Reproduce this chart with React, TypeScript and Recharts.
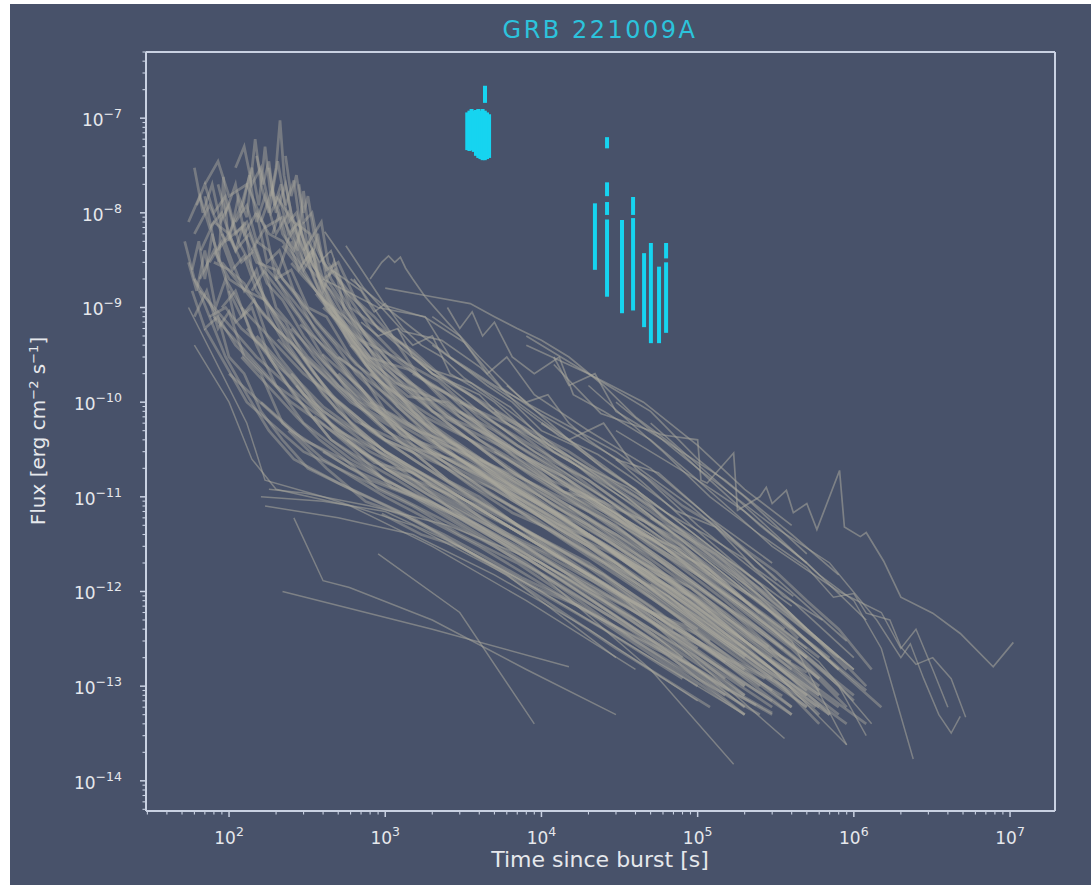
import { ScatterChart, Scatter, XAxis, YAxis, ReferenceLine, ErrorBar } from 'recharts'

const BG = '#48526a'
const SPINE = '#c9d1e2'
const INK = '#e6e8ec'
const GRAY = '#a9a89c'
const CYAN = '#16d4f0'
const FONT = 'DejaVu Sans'

const W = 1081
const H = 881
const PLOT_LEFT = 136
const PLOT_BOTTOM = 807

const X_MIN = 29.4
const X_MAX = 1.94e7
const Y_MIN = 4.8e-15
const Y_MAX = 5.0e-7

const xMajor = [1e2, 1e3, 1e4, 1e5, 1e6, 1e7]
const yMajor = [1e-14, 1e-13, 1e-12, 1e-11, 1e-10, 1e-9, 1e-8, 1e-7]
const minorSteps = [2, 3, 4, 5, 6, 7, 8, 9]

// early, flaring afterglows (t [s], flux)
const flareCurves: number[][][] = [
  [[58, 2.5e-9], [64, 5e-9], [70, 2e-9], [78, 6e-9], [86, 3e-9], [92, 2.4e-8], [98, 6e-9], [110, 4e-9], [125, 8e-9], [140, 2.5e-9], [170, 1.2e-9], [240, 4e-10], [400, 1.2e-10], [900, 3e-11], [2500, 8e-12], [9000, 2e-12], [4e4, 4e-13], [1.6e5, 9e-14]],
  [[66, 4e-9], [80, 8e-9], [100, 6e-9], [120, 1.2e-8], [140, 3e-8], [155, 1.2e-8], [170, 5e-8], [185, 1.5e-8], [200, 3e-8], [212, 9.5e-8], [225, 2.5e-8], [250, 1e-8], [300, 4e-9], [380, 1.5e-9], [600, 4e-10], [1200, 9e-11], [3000, 2.5e-11], [1e4, 6e-12], [4e4, 1.2e-12], [2e5, 1.5e-13]],
  [[100, 5e-9], [115, 1.5e-8], [130, 9e-9], [147, 6e-8], [160, 2e-8], [180, 1e-8], [205, 3.5e-8], [230, 1.2e-8], [260, 2.2e-8], [290, 6e-9], [340, 3e-9], [450, 1.2e-9], [700, 3.5e-10], [1500, 8e-11], [5000, 2e-11], [2e4, 4e-12], [1e5, 6e-13], [5e5, 8e-14]],
  [[55, 3e-9], [62, 1.5e-9], [70, 4e-9], [82, 1e-9], [95, 2e-9], [110, 7e-10], [140, 1e-9], [180, 3e-10], [260, 1.2e-10], [450, 4e-11], [1000, 1.5e-11], [3000, 6e-12], [1.2e4, 1.5e-12], [6e4, 2.5e-13], [2e5, 6e-14]],
  [[60, 8e-10], [72, 1.5e-9], [85, 6e-10], [100, 9e-10], [125, 3e-10], [160, 2e-10], [220, 6e-11], [400, 2.5e-11], [1000, 1e-11], [4000, 3e-12], [2e4, 6e-13], [1e5, 1e-13]],
  [[120, 1e-8], [135, 2.5e-8], [150, 8e-9], [170, 1.5e-8], [200, 6e-9], [240, 1e-8], [275, 4e-9], [300, 1.7e-8], [330, 5e-9], [380, 2e-9], [500, 8e-10], [800, 2.5e-10], [1800, 6e-11], [6000, 1.5e-11], [3e4, 2.5e-12], [1.5e5, 3e-13], [6e5, 6e-14]],
  [[160, 8e-9], [190, 1.8e-8], [220, 6e-9], [260, 4e-9], [300, 8e-9], [330, 3e-9], [370, 6e-9], [420, 2e-9], [520, 1.2e-9], [700, 5e-10], [1100, 1.5e-10], [2500, 4e-11], [8000, 1e-11], [3e4, 2.5e-12], [1.5e5, 4e-13], [6e5, 8e-14]],
  [[200, 2e-9], [240, 5e-9], [280, 2.5e-9], [340, 4e-9], [400, 1.5e-9], [470, 3e-9], [550, 9e-10], [700, 6e-10], [1000, 3e-10], [2000, 8e-11], [6000, 2e-11], [2.5e4, 4e-12], [1.2e5, 6e-13], [5e5, 9e-14]],
  [[70, 1.5e-8], [80, 5e-9], [95, 2e-9], [120, 1e-9], [150, 4e-10], [200, 1.5e-10], [300, 6e-11], [600, 2.5e-11], [2000, 8e-12], [8000, 2e-12], [4e4, 3e-13], [2e5, 5e-14]],
  [[52, 5e-9], [60, 2e-9], [75, 8e-10], [95, 3e-10], [130, 1.2e-10], [180, 5e-11], [260, 2.5e-11], [500, 1.4e-11], [1500, 6e-12], [6000, 1.5e-12], [3e4, 2.5e-13], [1.2e5, 6e-14]],
  [[85, 2e-8], [95, 1e-8], [110, 2e-8], [125, 6e-9], [150, 1e-8], [175, 3e-9], [210, 4e-9], [260, 1.5e-9], [350, 6e-10], [600, 1.8e-10], [1500, 4e-11], [5000, 1e-11], [2.5e4, 2e-12], [1.2e5, 3e-13]],
  [[140, 4e-9], [170, 7e-9], [200, 2e-9], [250, 2.5e-9], [320, 1e-9], [420, 8e-10], [600, 3e-10], [1000, 1.2e-10], [2200, 3.5e-11], [7000, 1e-11], [3e4, 2e-12], [1.5e5, 3e-13], [7e5, 5e-14]],
  [[250, 5e-9], [300, 2.5e-9], [350, 4e-9], [400, 2e-9], [480, 2.5e-9], [600, 1e-9], [800, 7e-10], [1100, 5e-10], [1600, 2e-10], [3000, 7e-11], [8000, 2.5e-11], [3e4, 6e-12], [1.2e5, 1.2e-12], [5e5, 2e-13]],
  [[90, 6e-9], [105, 3e-9], [125, 1.5e-9], [150, 2.5e-9], [180, 8e-10], [230, 4e-10], [320, 2e-10], [500, 8e-11], [1000, 3e-11], [3000, 1e-11], [1e4, 3e-12], [5e4, 5e-13], [2e5, 1e-13]],
  [[110, 3e-8], [125, 5e-8], [140, 2e-8], [160, 3e-8], [185, 1e-8], [210, 1.5e-8], [240, 6e-9], [280, 8e-9], [330, 3e-9], [400, 2e-9], [550, 8e-10], [800, 3.5e-10], [1300, 1.5e-10], [2500, 6e-11], [6000, 2e-11], [1.5e4, 8e-12], [4e4, 2.5e-12], [1.2e5, 6e-13]],
  [[180, 3e-8], [200, 1e-8], [230, 2e-8], [260, 7e-9], [300, 4e-9], [350, 2e-9], [420, 1e-9], [520, 6e-10], [700, 3e-10], [1000, 1.5e-10], [1800, 6e-11], [4000, 2.5e-11], [1e4, 1e-11], [3e4, 3e-12], [1e5, 8e-13], [3e5, 2e-13]],
  [[230, 4e-8], [250, 1.5e-8], [270, 2.5e-8], [300, 8e-9], [340, 1e-8], [380, 4e-9], [450, 2e-9], [550, 1.2e-9], [750, 5e-10], [1100, 2.5e-10], [2000, 1e-10], [4000, 4e-11], [9000, 1.8e-11], [2.5e4, 6e-12], [7e4, 1.8e-12], [2e5, 5e-13], [6e5, 1.2e-13]],
  [[60, 3e-8], [68, 1e-8], [78, 2e-8], [88, 8e-9], [100, 1.2e-8], [115, 5e-9], [135, 3e-9], [160, 1.5e-9], [200, 8e-10], [260, 4e-10], [350, 2e-10], [500, 1e-10], [800, 5e-11], [1500, 2.5e-11], [3500, 1e-11], [9000, 4e-12], [2.5e4, 1.5e-12], [7e4, 4e-13]],
  [[55, 8e-9], [65, 1.5e-8], [75, 7e-9], [90, 1e-8], [110, 4e-9], [135, 6e-9], [165, 2.5e-9], [210, 1.5e-9], [280, 8e-10], [400, 3e-10], [650, 1e-10], [1200, 4e-11], [2500, 1.5e-11], [6000, 6e-12], [1.5e4, 2e-12], [4e4, 7e-13], [1e5, 2.5e-13]],
  [[70, 2e-8], [85, 3.5e-8], [100, 1.5e-8], [130, 2e-8], [170, 7e-9], [220, 9e-9], [300, 3e-9], [450, 1.5e-9], [700, 6e-10], [1100, 3e-10], [2000, 1.5e-10], [4000, 8e-11], [9000, 3e-11], [2e4, 1.5e-11], [5e4, 5e-12], [1.2e5, 1.5e-12]],
  [[62, 1.2e-8], [70, 2e-8], [80, 1e-8], [95, 1.5e-8], [110, 6e-9], [130, 8e-9], [160, 3e-9], [200, 2e-9], [260, 1e-9], [350, 5e-10], [500, 2.5e-10], [800, 1e-10], [1500, 4e-11], [3500, 1.5e-11], [1e4, 5e-12], [3e4, 1.5e-12], [1e5, 4e-13]],
  [[150, 4e-8], [165, 2e-8], [180, 3.5e-8], [195, 1.2e-8], [215, 2e-8], [240, 8e-9], [270, 1e-8], [310, 4e-9], [360, 2.5e-9], [430, 1.2e-9], [550, 6e-10], [750, 2.5e-10], [1200, 1e-10], [2500, 3.5e-11], [7000, 1.2e-11], [2e4, 4e-12], [6e4, 1.2e-12], [2e5, 3e-13]],
  [[75, 3e-9], [90, 5e-9], [105, 2.5e-9], [125, 3.5e-9], [150, 1.5e-9], [185, 1e-9], [230, 7e-10], [300, 3e-10], [400, 1.5e-10], [600, 6e-11], [1000, 3e-11], [2000, 1.3e-11], [5000, 5e-12], [1.5e4, 1.5e-12], [5e4, 4e-13], [1.5e5, 1.2e-13]],
  [[190, 6e-9], [210, 1e-8], [235, 5e-9], [265, 7e-9], [300, 3e-9], [340, 4e-9], [390, 1.5e-9], [460, 1e-9], [560, 5e-10], [750, 2.5e-10], [1100, 1.2e-10], [2000, 5e-11], [4500, 2e-11], [1.2e4, 7e-12], [3.5e4, 2e-12], [1e5, 6e-13], [3e5, 1.5e-13]],
  [[100, 1.5e-9], [120, 8e-10], [145, 1.2e-9], [175, 5e-10], [210, 3e-10], [270, 1.8e-10], [350, 1e-10], [480, 5e-11], [700, 3e-11], [1100, 1.8e-11], [2000, 1e-11], [4500, 5e-12], [1.2e4, 2e-12], [3.5e4, 7e-13], [1e5, 2.2e-13], [3e5, 7e-14]],
  [[280, 2e-8], [300, 1e-8], [320, 1.5e-8], [350, 6e-9], [390, 8e-9], [430, 3e-9], [500, 2e-9], [600, 1.2e-9], [800, 6e-10], [1100, 3.5e-10], [1600, 2e-10], [3000, 8e-11], [7000, 3e-11], [2e4, 1e-11], [6e4, 3e-12], [2e5, 8e-13], [6e5, 2e-13]],
  [[200, 1.5e-8], [260, 8e-9], [330, 6e-9], [400, 3e-9], [500, 2e-9], [650, 1.2e-9], [850, 8e-10], [1100, 5e-10], [1500, 3.5e-10], [2200, 2e-10], [3500, 1.2e-10], [6000, 6e-11], [1.2e4, 2.5e-11], [3e4, 8e-12], [8e4, 2.5e-12], [2e5, 8e-13]],
  [[150, 1e-8], [180, 6e-9], [220, 5e-9], [280, 3e-9], [360, 1.5e-9], [470, 8e-10], [620, 5e-10], [800, 3e-10], [1100, 2e-10], [1600, 1.2e-10], [2500, 7e-11], [4500, 3.5e-11], [9000, 1.6e-11], [2e4, 7e-12], [5e4, 2.5e-12], [1.3e5, 8e-13], [3.5e5, 2.5e-13]],
  [[110, 8e-9], [130, 1.2e-8], [150, 5e-9], [180, 4e-9], [220, 2e-9], [280, 1.3e-9], [360, 7e-10], [480, 4e-10], [650, 2e-10], [900, 1.2e-10], [1400, 6e-11], [2500, 3e-11], [5000, 1.5e-11], [1.2e4, 6e-12], [3e4, 2e-12], [8e4, 6e-13], [2e5, 2e-13]],
  [[80, 3e-9], [100, 2.5e-9], [125, 1.8e-9], [160, 9e-10], [200, 6e-10], [260, 4e-10], [340, 2.2e-10], [450, 1.2e-10], [600, 8e-11], [900, 4.5e-11], [1500, 2.5e-11], [3000, 1.2e-11], [7000, 5e-12], [2e4, 1.8e-12], [6e4, 5e-13], [1.5e5, 1.8e-13]],
  [[130, 6e-10], [160, 4e-10], [200, 2.5e-10], [250, 1.8e-10], [330, 1e-10], [450, 6e-11], [650, 3.5e-11], [1000, 2e-11], [1800, 1.1e-11], [4000, 5e-12], [1e4, 2.2e-12], [3e4, 8e-13], [8e4, 3e-13], [2e5, 1e-13]],
]

// bright, long-lived light curves above the main band
const upperCurves: number[][][] = [
  [[800, 2e-9], [950, 3e-9], [1050, 3.5e-9], [1150, 3e-9], [1250, 3.4e-9], [1350, 2.6e-9], [1500, 2e-9], [1800, 1.3e-9], [2500, 7e-10], [4000, 3e-10], [7000, 1.2e-10], [1.5e4, 4e-11], [4e4, 1.2e-11], [1.2e5, 3e-12], [4e5, 7e-13]],
  [[1000, 1.6e-9], [2000, 1.3e-9], [3500, 1.1e-9], [5000, 8e-10], [7000, 6e-10], [1e4, 4.5e-10], [1.5e4, 3e-10], [2.5e4, 1.5e-10], [4e4, 7e-11], [7e4, 3.5e-11], [1.2e5, 1.5e-11], [2.5e5, 5e-12], [5e5, 2e-12]],
  [[2500, 1e-9], [3000, 6e-10], [3600, 9e-10], [4200, 5e-10], [5000, 7e-10], [6500, 3e-10], [9000, 2e-10], [1.3e4, 3e-10], [1.6e4, 1.2e-10], [2.5e4, 8e-11], [5e4, 4e-11], [1e5, 1.5e-11], [2e5, 7e-12], [5e5, 2e-12], [1.2e6, 5e-13]],
  [[1.2e4, 2.5e-10], [2.4e4, 7.6e-11], [6e4, 4.5e-11], [1e5, 4e-11], [1.05e5, 1.5e-11], [1.15e5, 1.4e-11], [1.7e5, 2.9e-11], [1.8e5, 7.2e-12], [2.5e5, 1e-11], [2.75e5, 1.26e-11], [3e5, 8.5e-12], [3.7e5, 1.17e-11], [4.1e5, 6.8e-12], [5e5, 8.5e-12], [5.8e5, 4.5e-12], [8.1e5, 1.9e-11], [8.7e5, 4.8e-12], [1.1e6, 3.8e-12], [1.2e6, 4.2e-12], [1.55e6, 2.1e-12], [2e6, 8.7e-13], [3.2e6, 5.9e-13], [4.8e6, 3.6e-13], [7.8e6, 1.6e-13], [1.05e7, 2.9e-13]],
  [[2000, 8e-10], [3000, 5e-10], [4500, 2e-10], [6000, 3e-10], [9000, 1.2e-10], [2e4, 5e-11], [5e4, 2e-11], [1.2e5, 6e-12], [3e5, 2e-12]],
  [[600, 2e-9], [1500, 6e-10], [3000, 2.5e-10], [7000, 1e-10], [1.5e4, 4e-11], [2.5e4, 6e-11], [4e4, 2e-11], [1e5, 5e-12], [4e5, 8e-13], [1e6, 2e-13]],
  [[400, 2e-9], [900, 1e-9], [1800, 8e-10], [2600, 3e-10], [5000, 1.5e-10], [1e4, 8e-11], [3e4, 3e-11], [9e4, 8e-12], [3e5, 1.5e-12], [9e5, 3e-13]],
  [[1.2e4, 3e-10], [1.5e4, 1.5e-10], [2.2e4, 2e-10], [3e4, 8e-11], [6e4, 4e-11], [1.5e5, 1.5e-11], [4e5, 4e-12], [8e5, 1.5e-12]],
  [[8000, 4e-10], [2e4, 2e-10], [4.5e4, 1e-10], [1e5, 3.5e-11], [2e5, 1.2e-11], [4e5, 5e-12]],
  [[8000, 5e-10], [2e4, 2e-10], [5e4, 8e-11], [1e5, 2.5e-11], [2e5, 1e-11], [5e5, 2.5e-12]],
  [[1200, 6e-10], [1500, 4e-10], [2000, 5e-10], [2600, 2e-10], [3500, 1.5e-10], [5000, 1e-10], [8000, 5e-11], [1.3e4, 3e-11], [2.2e4, 1.5e-11], [4e4, 8e-12], [8e4, 3.5e-12], [1.6e5, 1.5e-12], [3.5e5, 5e-13], [8e5, 1.5e-13]],
  [[6000, 1.5e-10], [8000, 1e-10], [1.1e4, 1.2e-10], [1.5e4, 6e-11], [2e4, 4e-11], [3e4, 2.5e-11], [5e4, 1.2e-11], [8e4, 6e-12], [1.3e5, 3e-12], [2.5e5, 1.2e-12], [5e5, 4e-13], [1e6, 1.5e-13]],
  [[2000, 4e-10], [3000, 2.5e-10], [4500, 1.5e-10], [6500, 1e-10], [1e4, 5e-11], [1.6e4, 3.5e-11], [2.5e4, 2e-11], [4e4, 1.2e-11], [7e4, 6e-12], [1.2e5, 3e-12], [2.5e5, 1.2e-12], [5e5, 4e-13], [1e6, 1.5e-13]],
  [[560, 4.5e-9], [1000, 1.05e-9], [1800, 7.9e-10], [3200, 4.3e-10], [5600, 1.4e-10], [1e4, 7.4e-11], [1.8e4, 4.2e-11], [3.2e4, 2.4e-11], [5.6e4, 1.8e-11], [1e5, 7.8e-12], [1.8e5, 3.2e-12], [3.2e5, 1.3e-12]],
  [[410, 6.3e-9], [730, 1.6e-9], [1300, 5.6e-10], [2300, 4.5e-10], [4100, 2.3e-10], [7300, 8.9e-11], [1.3e4, 4.4e-11], [2.3e4, 2.8e-11], [4.1e4, 1.45e-11], [7.3e4, 7.1e-12], [1.3e5, 4.8e-12], [2.3e5, 1.8e-12], [4.1e5, 8.9e-13]],
  [[630, 2e-9], [1120, 5e-10], [2000, 2.2e-10], [3550, 1.6e-10], [6300, 8.9e-11], [1.12e4, 3.5e-11], [2e4, 2e-11], [3.55e4, 1.26e-11], [6.3e4, 6.8e-12], [1.12e5, 4e-12], [2e5, 2.2e-12], [3.55e5, 8.9e-13], [6.3e5, 5e-13]],
  [[320, 5e-9], [380, 3e-9], [450, 4e-9], [550, 1.5e-9], [700, 1e-9], [900, 6e-10], [1200, 4e-10], [1700, 2.5e-10], [2500, 1.5e-10], [4000, 8e-11], [7000, 4e-11], [1.3e4, 2e-11], [3e4, 8e-12], [7e4, 3e-12], [2e5, 8e-13], [5e5, 2.5e-13]],
  [[450, 2.5e-9], [550, 2e-9], [700, 1.5e-9], [850, 9e-10], [1000, 1.1e-9], [1300, 6e-10], [1700, 4e-10], [2300, 3e-10], [3200, 1.8e-10], [4500, 1.2e-10], [7000, 7e-11], [1.2e4, 3.5e-11], [2.5e4, 1.5e-11], [6e4, 5e-12], [1.5e5, 1.5e-12], [4e5, 4e-13]],
  [[700, 7e-10], [900, 5e-10], [1200, 6e-10], [1500, 3e-10], [2000, 2.2e-10], [2800, 1.5e-10], [4000, 1e-10], [6000, 6e-11], [1e4, 3.5e-11], [1.8e4, 2e-11], [3.5e4, 9e-12], [7e4, 4e-12], [1.5e5, 1.5e-12], [3e5, 6e-13], [7e5, 2e-13]],
  [[1500, 3e-10], [2000, 2e-10], [3000, 1.5e-10], [4000, 1.2e-10], [5500, 7e-11], [8000, 5e-11], [1.2e4, 3e-11], [2e4, 1.8e-11], [3.5e4, 1e-11], [6e4, 5e-12], [1.1e5, 2.5e-12], [2e5, 1.2e-12], [4e5, 5e-13], [8e5, 2e-13]],
]

// the bulk of the sample
const bandCurves: number[][][] = [
  [[65, 1.5e-9], [150, 3e-10], [500, 5e-11], [2000, 1.5e-11], [1e4, 3e-12], [5e4, 6e-13], [2.5e5, 1e-13]],
  [[80, 8e-10], [200, 1.5e-10], [800, 3e-11], [3000, 1e-11], [2e4, 1.5e-12], [1e5, 3e-13], [4e5, 6e-14]],
  [[90, 3e-9], [200, 6e-10], [600, 1e-10], [2000, 3e-11], [8000, 1e-11], [4e4, 2e-12], [2e5, 3e-13], [6e5, 8e-14]],
  [[120, 1e-9], [300, 2e-10], [1000, 4e-11], [5000, 1.2e-11], [2e4, 3e-12], [1e5, 4e-13], [5e5, 6e-14]],
  [[150, 5e-10], [400, 8e-11], [1500, 2e-11], [6000, 6e-12], [3e4, 1e-12], [1.5e5, 1.5e-13], [4e5, 5e-14]],
  [[160, 1e-10], [300, 4e-11], [1000, 1.5e-11], [4000, 5e-12], [2e4, 1e-12], [1e5, 2e-13], [3e5, 6e-14]],
  [[100, 2e-10], [250, 5e-11], [600, 2e-11], [3000, 6e-12], [1e4, 2e-12], [6e4, 3e-13], [2e5, 8e-14]],
  [[70, 6e-10], [130, 1e-10], [300, 3e-11], [1200, 1e-11], [5000, 3e-12], [3e4, 5e-13], [1.5e5, 8e-14]],
  [[60, 2e-9], [110, 4e-10], [250, 1e-10], [700, 3e-11], [3000, 8e-12], [1.5e4, 1.5e-12], [8e4, 2e-13]],
  [[200, 2e-9], [500, 3e-10], [2000, 5e-11], [7000, 1.5e-11], [3e4, 4e-12], [1.5e5, 6e-13], [6e5, 1e-13]],
  [[250, 6e-10], [700, 1e-10], [3000, 2.5e-11], [1e4, 8e-12], [5e4, 1.5e-12], [3e5, 1.5e-13], [9e5, 4e-14]],
  [[300, 3e-10], [1000, 5e-11], [4000, 1.5e-11], [2e4, 3e-12], [1e5, 5e-13], [5e5, 8e-14]],
  [[400, 1e-9], [1200, 2e-10], [4000, 5e-11], [1.5e4, 1.5e-11], [6e4, 3e-12], [3e5, 4e-13], [1e6, 8e-14]],
  [[600, 4e-10], [2000, 8e-11], [8000, 2.5e-11], [3e4, 6e-12], [1.5e5, 8e-13], [6e5, 1.2e-13]],
  [[800, 1e-10], [3000, 3e-11], [1e4, 1e-11], [5e4, 2e-12], [2e5, 3e-13], [8e5, 5e-14]],
  [[1500, 2e-10], [5000, 6e-11], [2e4, 1.5e-11], [8e4, 3e-12], [3e5, 6e-13], [1.2e6, 9e-14]],
  [[3000, 1e-10], [1e4, 4e-11], [4e4, 1e-11], [1.5e5, 2e-12], [5e5, 3e-13], [1.5e6, 6e-14]],
  [[5000, 8e-11], [1.5e4, 3e-11], [5e4, 8e-12], [2e5, 1.2e-12], [8e5, 1.5e-13]],
  [[2000, 4e-11], [8000, 1.5e-11], [3e4, 5e-12], [1e5, 1e-12], [4e5, 1.5e-13], [1.2e6, 4e-14]],
  [[1000, 2e-11], [4000, 8e-12], [2e4, 2e-12], [1e5, 3e-13], [4e5, 5e-14]],
  [[60, 6e-9], [75, 1.2e-8], [95, 5e-9], [120, 7e-9], [150, 3e-9], [200, 2.5e-9], [280, 1.2e-9], [400, 6e-10], [650, 2.5e-10], [1000, 1.5e-10], [1800, 7e-11], [3500, 4e-11], [8000, 1.5e-11], [2e4, 6e-12], [5e4, 2e-12], [1.5e5, 5e-13], [4e5, 1.5e-13]],
  [[65, 2e-9], [80, 4e-9], [100, 2e-9], [130, 1.5e-9], [170, 1.2e-9], [230, 6e-10], [320, 3e-10], [500, 1.5e-10], [800, 8e-11], [1300, 5e-11], [2500, 2.5e-11], [5000, 1.3e-11], [1.2e4, 5e-12], [3e4, 2e-12], [8e4, 6e-13], [2e5, 2e-13], [5e5, 6e-14]],
  [[75, 8e-10], [95, 1e-9], [120, 6e-10], [160, 4e-10], [210, 2.5e-10], [300, 1.2e-10], [450, 7e-11], [700, 4e-11], [1100, 2.5e-11], [2000, 1.3e-11], [4000, 7e-12], [9000, 3.5e-12], [2e4, 1.5e-12], [5e4, 6e-13], [1.2e5, 2.5e-13], [3e5, 9e-14]],
  [[120, 3e-10], [150, 2e-10], [200, 1.2e-10], [270, 7e-11], [380, 4e-11], [550, 2.5e-11], [900, 1.2e-11], [1500, 8e-12], [3000, 4e-12], [7000, 2e-12], [1.6e4, 8e-13], [4e4, 3e-13], [1e5, 1.2e-13], [2.5e5, 5e-14]],
  [[300, 4e-9], [350, 6e-9], [420, 2.5e-9], [500, 3e-9], [650, 1.2e-9], [900, 6e-10], [1300, 4e-10], [2000, 2e-10], [3500, 1.2e-10], [6000, 7e-11], [1.2e4, 3e-11], [2.5e4, 1.5e-11], [5e4, 7e-12], [1e5, 3e-12], [2.5e5, 1e-12], [6e5, 3e-13]],
  [[400, 1.2e-9], [550, 8e-10], [750, 5e-10], [1000, 2.5e-10], [1500, 1.5e-10], [2500, 7e-11], [4000, 5e-11], [7000, 2.5e-11], [1.3e4, 1.2e-11], [2.5e4, 7e-12], [5e4, 3e-12], [1e5, 1.5e-12], [2.2e5, 6e-13], [5e5, 2e-13]],
  [[500, 3e-10], [700, 2e-10], [1000, 8e-11], [1600, 5e-11], [2500, 3e-11], [4000, 1.8e-11], [7000, 1e-11], [1.2e4, 6e-12], [2.5e4, 3e-12], [5e4, 1.5e-12], [1e5, 7e-13], [2e5, 3e-13], [4.5e5, 1.2e-13], [8e5, 6e-14]],
  [[700, 6e-11], [1000, 4e-11], [1500, 3e-11], [2500, 1.5e-11], [4000, 1e-11], [7000, 5e-12], [1.2e4, 3e-12], [2.5e4, 1.5e-12], [5e4, 7e-13], [1e5, 3e-13], [2e5, 1.5e-13], [4e5, 6e-14]],
  [[400, 3e-11], [800, 1.5e-11], [1500, 1e-11], [3000, 5e-12], [6000, 2.5e-12], [1.2e4, 1.3e-12], [2.5e4, 6e-13], [5e4, 3e-13], [1e5, 1.2e-13], [2e5, 5e-14]],
  [[3000, 8e-11], [5000, 5e-11], [8000, 3e-11], [1.3e4, 1.8e-11], [2e4, 1e-11], [3.5e4, 5e-12], [6e4, 3e-12], [1e5, 1.5e-12], [2e5, 6e-13], [4e5, 2.5e-13], [8e5, 8e-14]],
  [[4000, 2.5e-11], [7000, 1.5e-11], [1.2e4, 8e-12], [2e4, 5e-12], [3.5e4, 2.5e-12], [6e4, 1.5e-12], [1e5, 8e-13], [2e5, 3e-13], [4e5, 1.2e-13], [7e5, 5e-14]],
  [[85, 4e-9], [100, 6e-9], [120, 3e-9], [145, 4e-9], [175, 1.8e-9], [220, 1.2e-9], [300, 5e-10], [420, 2.5e-10], [650, 1.2e-10], [1000, 7e-11], [2000, 3e-11], [4500, 1.5e-11], [1e4, 7e-12], [2.5e4, 2.5e-12], [7e4, 8e-13], [2e5, 2.5e-13]],
  [[90, 1e-9], [110, 1.5e-9], [140, 5e-10], [180, 3e-10], [240, 1.5e-10], [320, 8e-11], [450, 4e-11], [700, 2.5e-11], [1200, 1.5e-11], [2500, 7e-12], [6000, 3e-12], [1.5e4, 1.2e-12], [4e4, 4e-13], [1.2e5, 1.2e-13], [3e5, 5e-14]],
  [[1e4, 6e-11], [1.5e4, 4e-11], [2.5e4, 2e-11], [4e4, 1.2e-11], [6e4, 6e-12], [1e5, 3.5e-12], [1.6e5, 2e-12], [3e5, 8e-13], [5e5, 4e-13], [9e5, 1.5e-13]],
  [[2e4, 4e-12], [4e4, 2e-12], [8e4, 9e-13], [1.5e5, 4e-13], [3e5, 1.5e-13], [6e5, 5e-14]],
  [[1.5e4, 8e-12], [3e4, 4e-12], [6e4, 2e-12], [1.2e5, 9e-13], [2.5e5, 4e-13], [5e5, 1.6e-13], [9e5, 6e-14]],
  [[250, 2e-10], [400, 9e-11], [650, 5e-11], [1000, 3e-11], [1700, 1.8e-11], [3000, 1e-11], [6000, 5e-12], [1.2e4, 2.5e-12], [2.5e4, 1.2e-12], [5e4, 5e-13], [1e5, 2e-13], [2e5, 8e-14]],
  [[140, 1.5e-9], [170, 2.5e-9], [200, 1e-9], [260, 6e-10], [350, 3e-10], [500, 1.5e-10], [750, 8e-11], [1200, 4e-11], [2000, 2.5e-11], [4000, 1.2e-11], [9000, 6e-12], [2e4, 2.5e-12], [5e4, 1e-12], [1.2e5, 3.5e-13], [3e5, 1.2e-13]],
  [[800, 2e-10], [1200, 1.2e-10], [2000, 7e-11], [3500, 4e-11], [6000, 2.5e-11], [1e4, 1.5e-11], [1.8e4, 8e-12], [3.5e4, 4e-12], [7e4, 1.8e-12], [1.5e5, 7e-13], [3e5, 2.5e-13], [6e5, 9e-14]],
  [[2500, 3e-11], [4000, 2e-11], [7000, 1.2e-11], [1.2e4, 7e-12], [2e4, 4e-12], [3.5e4, 2e-12], [6e4, 1.1e-12], [1.1e5, 5e-13], [2e5, 2.2e-13], [3.5e5, 1e-13], [6e5, 4e-14]],
  [[58, 1.5e-9], [70, 6e-10], [85, 8e-10], [100, 3e-10], [125, 2e-10], [160, 8e-11], [220, 4e-11], [320, 2e-11], [600, 1.2e-11], [1200, 7e-12], [3000, 3e-12], [8000, 1.2e-12], [2.5e4, 4e-13], [8e4, 1.2e-13]],
  [[250, 2.95e-9], [450, 1e-9], [800, 2.95e-10], [1420, 2.2e-10], [2500, 1.23e-10], [4500, 5e-11], [8000, 2.6e-11], [1.42e4, 1.6e-11], [2.5e4, 8.7e-12], [4.5e4, 5.6e-12], [8e4, 2.95e-12], [1.42e5, 1.26e-12], [2.5e5, 5.9e-13]],
  [[360, 1.4e-9], [650, 4e-10], [1150, 1.6e-10], [2050, 1.1e-10], [3600, 6.6e-11], [6500, 2.8e-11], [1.15e4, 1.5e-11], [2.05e4, 1e-11], [3.6e4, 5.2e-12], [6.5e4, 2.8e-12], [1.15e5, 1.8e-12], [2.05e5, 7.9e-13], [3.6e5, 4e-13]],
  [[285, 6.6e-10], [505, 2.8e-10], [900, 8.3e-11], [1600, 5e-11], [2850, 3.5e-11], [5050, 1.6e-11], [9000, 8.9e-12], [1.6e4, 5.6e-12], [2.85e4, 3.2e-12], [5.05e4, 1.8e-12], [9e4, 1.1e-12], [1.6e5, 5e-13], [2.85e5, 2.6e-13]],
  [[395, 3.2e-10], [700, 1.4e-10], [1250, 4.5e-11], [2220, 3.2e-11], [3950, 1.9e-11], [7000, 8.9e-12], [1.25e4, 5.2e-12], [2.22e4, 3.5e-12], [3.95e4, 1.9e-12], [7e4, 1.26e-12], [1.25e5, 6.9e-13], [2.22e5, 3.2e-13], [3.95e5, 1.8e-13]],
  [[270, 1.5e-10], [480, 5e-11], [850, 2.3e-11], [1510, 1.8e-11], [2690, 1e-11], [4780, 5e-12], [8500, 3.1e-12], [1.51e4, 2e-12], [2.69e4, 1.15e-12], [4.78e4, 6.3e-13], [8.5e4, 4.3e-13], [1.51e5, 2e-13], [2.69e5, 1.2e-13]],
  [[350, 7.1e-11], [620, 3.2e-11], [1100, 1.26e-11], [1960, 8.9e-12], [3480, 5.5e-12], [6200, 3.2e-12], [1.1e4, 1.8e-12], [1.96e4, 1.1e-12], [3.48e4, 6.9e-13], [6.2e4, 4e-13], [1.1e5, 2.6e-13], [1.96e5, 1.4e-13], [3.48e5, 7.9e-14]],
  [[950, 6.6e-12], [1700, 4e-12], [3000, 2.95e-12], [5300, 1.8e-12], [9500, 1.07e-12], [1.7e4, 7.1e-13], [3e4, 4.2e-13], [5.3e4, 2.5e-13], [9.5e4, 1.6e-13], [1.7e5, 8.9e-14], [3e5, 5.2e-14]],
  [[440, 1e-9], [790, 2.5e-10], [1400, 1.15e-10], [2500, 1e-10], [4400, 4.8e-11], [7900, 2.5e-11], [1.4e4, 1.12e-11], [2.5e4, 8.9e-12], [4.4e4, 4e-12], [7.9e4, 2.8e-12], [1.4e5, 1.4e-12], [2.5e5, 7.9e-13], [4.4e5, 3.2e-13]],
  [[220, 4.5e-9], [390, 1.26e-9], [700, 4.5e-10], [1250, 2.8e-10], [2200, 1.66e-10], [3900, 7.1e-11], [7000, 3.5e-11], [1.25e4, 2e-11], [2.2e4, 1.12e-11], [3.9e4, 6.3e-12], [7e4, 3.8e-12], [1.25e5, 1.6e-12], [2.2e5, 7.1e-13]],
  [[500, 2e-10], [900, 7.9e-11], [1600, 3.2e-11], [2850, 2.4e-11], [5000, 1.4e-11], [9000, 7.1e-12], [1.6e4, 4e-12], [2.85e4, 2.5e-12], [5e4, 1.4e-12], [9e4, 8.9e-13], [1.6e5, 5e-13], [2.85e5, 2.4e-13], [5e5, 1.4e-13]],
  [[240, 5e-11], [420, 2e-11], [750, 8.9e-12], [1330, 6.3e-12], [2370, 4e-12], [4200, 2.4e-12], [7500, 1.4e-12], [1.33e4, 8.9e-13], [2.37e4, 5.2e-13], [4.2e4, 3.2e-13], [7.5e4, 2e-13], [1.33e5, 1.05e-13], [2.37e5, 6.3e-14]],
  [[205, 4.6e-10], [365, 1.6e-10], [650, 6.3e-11], [1150, 4e-11], [2050, 2.5e-11], [3650, 1.26e-11], [6500, 6.8e-12], [1.15e4, 4.5e-12], [2.05e4, 2.5e-12], [3.65e4, 1.5e-12], [6.5e4, 8.9e-13], [1.15e5, 4e-13], [2.05e5, 2.1e-13]],
  [[570, 4e-11], [1000, 2e-11], [1800, 1.2e-11], [3200, 7e-12], [5700, 4e-12], [1e4, 2.6e-12], [1.8e4, 1.5e-12], [3.2e4, 9e-13], [5.7e4, 5.5e-13], [1e5, 3.5e-13], [1.8e5, 1.8e-13], [3.2e5, 1.1e-13], [5.7e5, 6e-14]],
  [[5e4, 6e-12], [8e4, 4e-12], [1.3e5, 2.5e-12], [2e5, 1.4e-12], [3.2e5, 8e-13], [5e5, 4e-13], [8e5, 2e-13], [1.2e6, 1e-13]],
  [[3e4, 2.5e-11], [5e4, 1.5e-11], [8e4, 8e-12], [1.3e5, 5e-12], [2e5, 2.8e-12], [3.2e5, 1.6e-12], [5e5, 8e-13], [8e5, 4e-13], [1.3e6, 1.5e-13]],
  [[1.5e4, 1.2e-11], [2.5e4, 7e-12], [4e4, 4.5e-12], [7e4, 2.5e-12], [1.2e5, 1.3e-12], [2e5, 7e-13], [3.5e5, 3.5e-13], [6e5, 1.6e-13], [1e6, 7e-14]],
]

// faint and shallow decays along the lower edge
const faintCurves: number[][][] = [
  [[160, 1e-11], [400, 9e-12], [1000, 7e-12], [3000, 3e-12], [1e4, 1e-12], [5e4, 2e-13], [2e5, 5e-14]],
  [[170, 8e-12], [500, 6e-12], [1500, 4e-12], [5000, 1.5e-12], [2e4, 4e-13], [1e5, 7e-14]],
  [[180, 1.2e-11], [300, 1.1e-11], [800, 8e-12], [2500, 5e-12], [1e4, 2e-12], [4e4, 5e-13], [2e5, 6e-14]],
  [[220, 1e-12], [2000, 4e-13], [1.5e4, 1.6e-13]],
  [[900, 2.5e-12], [3000, 6e-13], [9000, 4e-14]],
  [[260, 6e-12], [400, 1.3e-12], [590, 1.1e-12], [2000, 5e-13], [8000, 1.5e-13], [3e4, 5e-14]],
  [[60, 4e-10], [100, 1e-10], [140, 2.5e-11], [200, 1.2e-11], [600, 8e-12], [2000, 3e-12], [8000, 8e-13], [4e4, 1.5e-13]],
  [[55, 1e-9], [90, 2e-10], [130, 6e-11], [170, 1.5e-11], [400, 1e-11], [1500, 5e-12], [6000, 1.5e-12], [3e4, 2e-13]],
  [[1e4, 1.5e-12], [5e4, 1.5e-13], [1.7e5, 1.5e-14]],
  [[3e4, 1e-12], [1.5e5, 1e-13], [3.6e5, 2.8e-14]],
  [[5e4, 1.2e-12], [3e5, 1.5e-13], [9e5, 2.4e-14]],
]

// late-time tails reaching past 10^6 s
const lateCurves: number[][][] = [
  [[2e4, 1.5e-10], [6e4, 3e-11], [1.2e5, 1e-11], [2.5e5, 4e-12], [5e5, 1.8e-12], [7.4e5, 8.7e-13], [1e6, 9.5e-13], [1.2e6, 5.9e-13], [1.7e6, 5e-13], [2e6, 2.6e-13], [2.5e6, 1.7e-13], [3.2e6, 2e-13], [4.2e6, 1.2e-13], [5.2e6, 4.7e-14]],
  [[3e4, 1e-10], [1e5, 2e-11], [3e5, 5e-12], [7e5, 2e-12], [1.4e6, 5e-13], [2e6, 2e-13], [2.3e6, 2.8e-13], [2.8e6, 1.2e-13], [3.5e6, 5e-14], [4.2e6, 3.2e-14], [4.8e6, 4.8e-14]],
  [[5e4, 6e-11], [2e5, 8e-12], [6e5, 1.5e-12], [1e6, 8e-13], [1.5e6, 2.5e-13], [2.4e6, 1.7e-14]],
  [[5000, 3e-11], [2e4, 8e-12], [8e4, 2e-12], [3e5, 4e-13], [8e5, 1e-13], [1.2e6, 3e-14]],
  [[1e4, 2e-11], [5e4, 4e-12], [2e5, 8e-13], [6e5, 1.8e-13], [1.3e6, 4e-14]],
  [[2e4, 1e-11], [1e5, 2e-12], [4e5, 3e-13], [9e5, 2.4e-14]],
  [[3e4, 5e-11], [1e5, 1.5e-11], [3e5, 3e-12], [8e5, 1e-12], [1.5e6, 6e-13], [2e6, 2.5e-13], [2.5e6, 4e-13], [3.2e6, 1.5e-13], [4e6, 6e-14]],
]

// GRB 221009A: time, lower and upper flux of each error bar
const grbT = [3350, 3460, 3570, 3690, 3810, 3940, 4070, 4200, 4340, 4480, 4620, 4350,
  2.2e4, 2.63e4, 2.63e4, 2.63e4, 2.63e4, 3.28e4, 3.86e4, 3.86e4, 4.54e4, 5.02e4, 5.66e4, 6.28e4, 6.28e4]
const grbLo = [4.6e-8, 4.5e-8, 4.6e-8, 4.4e-8, 4.0e-8, 3.8e-8, 3.7e-8, 3.6e-8, 3.6e-8, 3.7e-8, 3.8e-8, 1.45e-7,
  2.5e-9, 4.8e-8, 1.5e-8, 9.5e-9, 1.3e-9, 8.7e-10, 9.5e-9, 9.3e-10, 6.2e-10, 4.2e-10, 4.2e-10, 3.3e-9, 5.4e-10]
const grbHi = [1.15e-7, 1.2e-7, 1.25e-7, 1.2e-7, 1.22e-7, 1.25e-7, 1.2e-7, 1.25e-7, 1.2e-7, 1.15e-7, 1.1e-7, 2.2e-7,
  1.26e-8, 6.3e-8, 2.1e-8, 1.3e-8, 8.5e-9, 8.4e-9, 1.47e-8, 8.8e-9, 3.75e-9, 4.8e-9, 2.7e-9, 4.8e-9, 3.0e-9]

// dense groups get a heavier stroke, the stragglers stay thin
const curveGroups = [
  { curves: flareCurves, width: 2.7, opacity: 0.48 },
  { curves: bandCurves, width: 2.7, opacity: 0.48 },
  { curves: upperCurves, width: 1.7, opacity: 0.55 },
  { curves: faintCurves, width: 1.5, opacity: 0.55 },
  { curves: lateCurves, width: 1.5, opacity: 0.55 },
]

const grbData = grbT.map((t, i) => {
  const f = Math.sqrt(grbLo[i] * grbHi[i])
  return { t, f, err: [f - grbLo[i], grbHi[i] - f] }
})

const minorTicks = (majors: number[], lo: number, hi: number) => {
  const out: number[] = []
  for (const m of [majors[0] / 10, ...majors]) {
    for (const s of minorSteps) {
      const v = m * s
      if (v >= lo && v <= hi) out.push(v)
    }
  }
  return out
}

const xTicks = [...xMajor, ...minorTicks(xMajor, X_MIN, X_MAX)].sort((a, b) => a - b)
const yTicks = [...yMajor, ...minorTicks(yMajor, Y_MIN, Y_MAX)].sort((a, b) => a - b)

const expOf = (v: number) => Math.round(Math.log10(v))
const isMajor = (v: number) => Math.abs(Math.log10(v) - expOf(v)) < 1e-6
const supText = (n: number) => (n < 0 ? '\u2212' + Math.abs(n) : String(n))

function XTick({ x, payload }: any) {
  const v = payload.value
  const major = isMajor(v)
  return (
    <g>
      <line x1={x} x2={x} y1={PLOT_BOTTOM} y2={PLOT_BOTTOM + (major ? 6 : 3.5)}
        stroke={SPINE} strokeWidth={major ? 1.5 : 1.1} />
      {major && (
        <text x={x} y={PLOT_BOTTOM + 33} textAnchor='middle' fill={INK}
          fontSize={17} fontFamily={FONT}>
          10<tspan dy={-8} fontSize={12.5}>{supText(expOf(v))}</tspan>
        </text>
      )}
    </g>
  )
}

function YTick({ y, payload }: any) {
  const v = payload.value
  const major = isMajor(v)
  return (
    <g>
      <line x1={PLOT_LEFT} x2={PLOT_LEFT - (major ? 6 : 3.5)} y1={y} y2={y}
        stroke={SPINE} strokeWidth={major ? 1.5 : 1.1} />
      {major && (
        <text x={PLOT_LEFT - 24} y={y + 8} textAnchor='end' fill={INK}
          fontSize={17} fontFamily={FONT}>
          10<tspan dy={-8} fontSize={12.5}>{supText(expOf(v))}</tspan>
        </text>
      )}
    </g>
  )
}

const noDot = () => <g />

export default function App() {
  return (
    <div style={{ position: 'absolute', left: 10, top: 4, width: W, height: H,
      background: BG, fontFamily: FONT }}>
      <div style={{ position: 'absolute', left: 0, width: 1180, top: 12,
        textAlign: 'center', color: '#2cc3dc', fontSize: 24, letterSpacing: 2.5 }}>
        GRB 221009A
      </div>
      <ScatterChart width={W} height={H}
        margin={{ top: 48, right: 36, bottom: 14, left: 76 }}>
        <XAxis dataKey='t' type='number' scale='log' domain={[X_MIN, X_MAX]}
          allowDataOverflow ticks={xTicks} interval={0} height={60}
          axisLine={{ stroke: SPINE, strokeWidth: 2 }} tickLine={false} tick={<XTick />} />
        <YAxis dataKey='f' type='number' scale='log' domain={[Y_MIN, Y_MAX]}
          allowDataOverflow ticks={yTicks} interval={0} width={60}
          axisLine={{ stroke: SPINE, strokeWidth: 2 }} tickLine={false} tick={<YTick />} />
        <ReferenceLine x={X_MAX} stroke={SPINE} strokeWidth={2} />
        <ReferenceLine y={Y_MAX} stroke={SPINE} strokeWidth={2} />
        {curveGroups.flatMap((g, gi) => g.curves.map((c, i) => (
          <Scatter key={gi + '-' + i} data={c.map(([t, f]) => ({ t, f }))} shape={noDot}
            line={{ stroke: GRAY, strokeWidth: g.width, strokeOpacity: g.opacity }}
            isAnimationActive={false} />
        )))}
        <Scatter data={grbData} shape={noDot} isAnimationActive={false}>
          <ErrorBar dataKey='err' direction='y' width={0} stroke={CYAN}
            strokeWidth={4} isAnimationActive={false} />
        </Scatter>
      </ScatterChart>
      <div style={{ position: 'absolute', left: 0, width: 1180, top: 843,
        textAlign: 'center', color: INK, fontSize: 22 }}>
        Time since burst [s]
      </div>
      <div style={{ position: 'absolute', left: 28, top: 427, width: 0, height: 0 }}>
        <div style={{ position: 'absolute', left: 0, top: 0, whiteSpace: 'nowrap',
          transform: 'translate(-50%, -50%) rotate(-90deg)', color: INK, fontSize: 20 }}>
          Flux [erg cm<sup style={{ fontSize: 13 }}>{'\u2212'}2</sup> s<sup style={{ fontSize: 13 }}>{'\u2212'}1</sup>]
        </div>
      </div>
    </div>
  )
}
